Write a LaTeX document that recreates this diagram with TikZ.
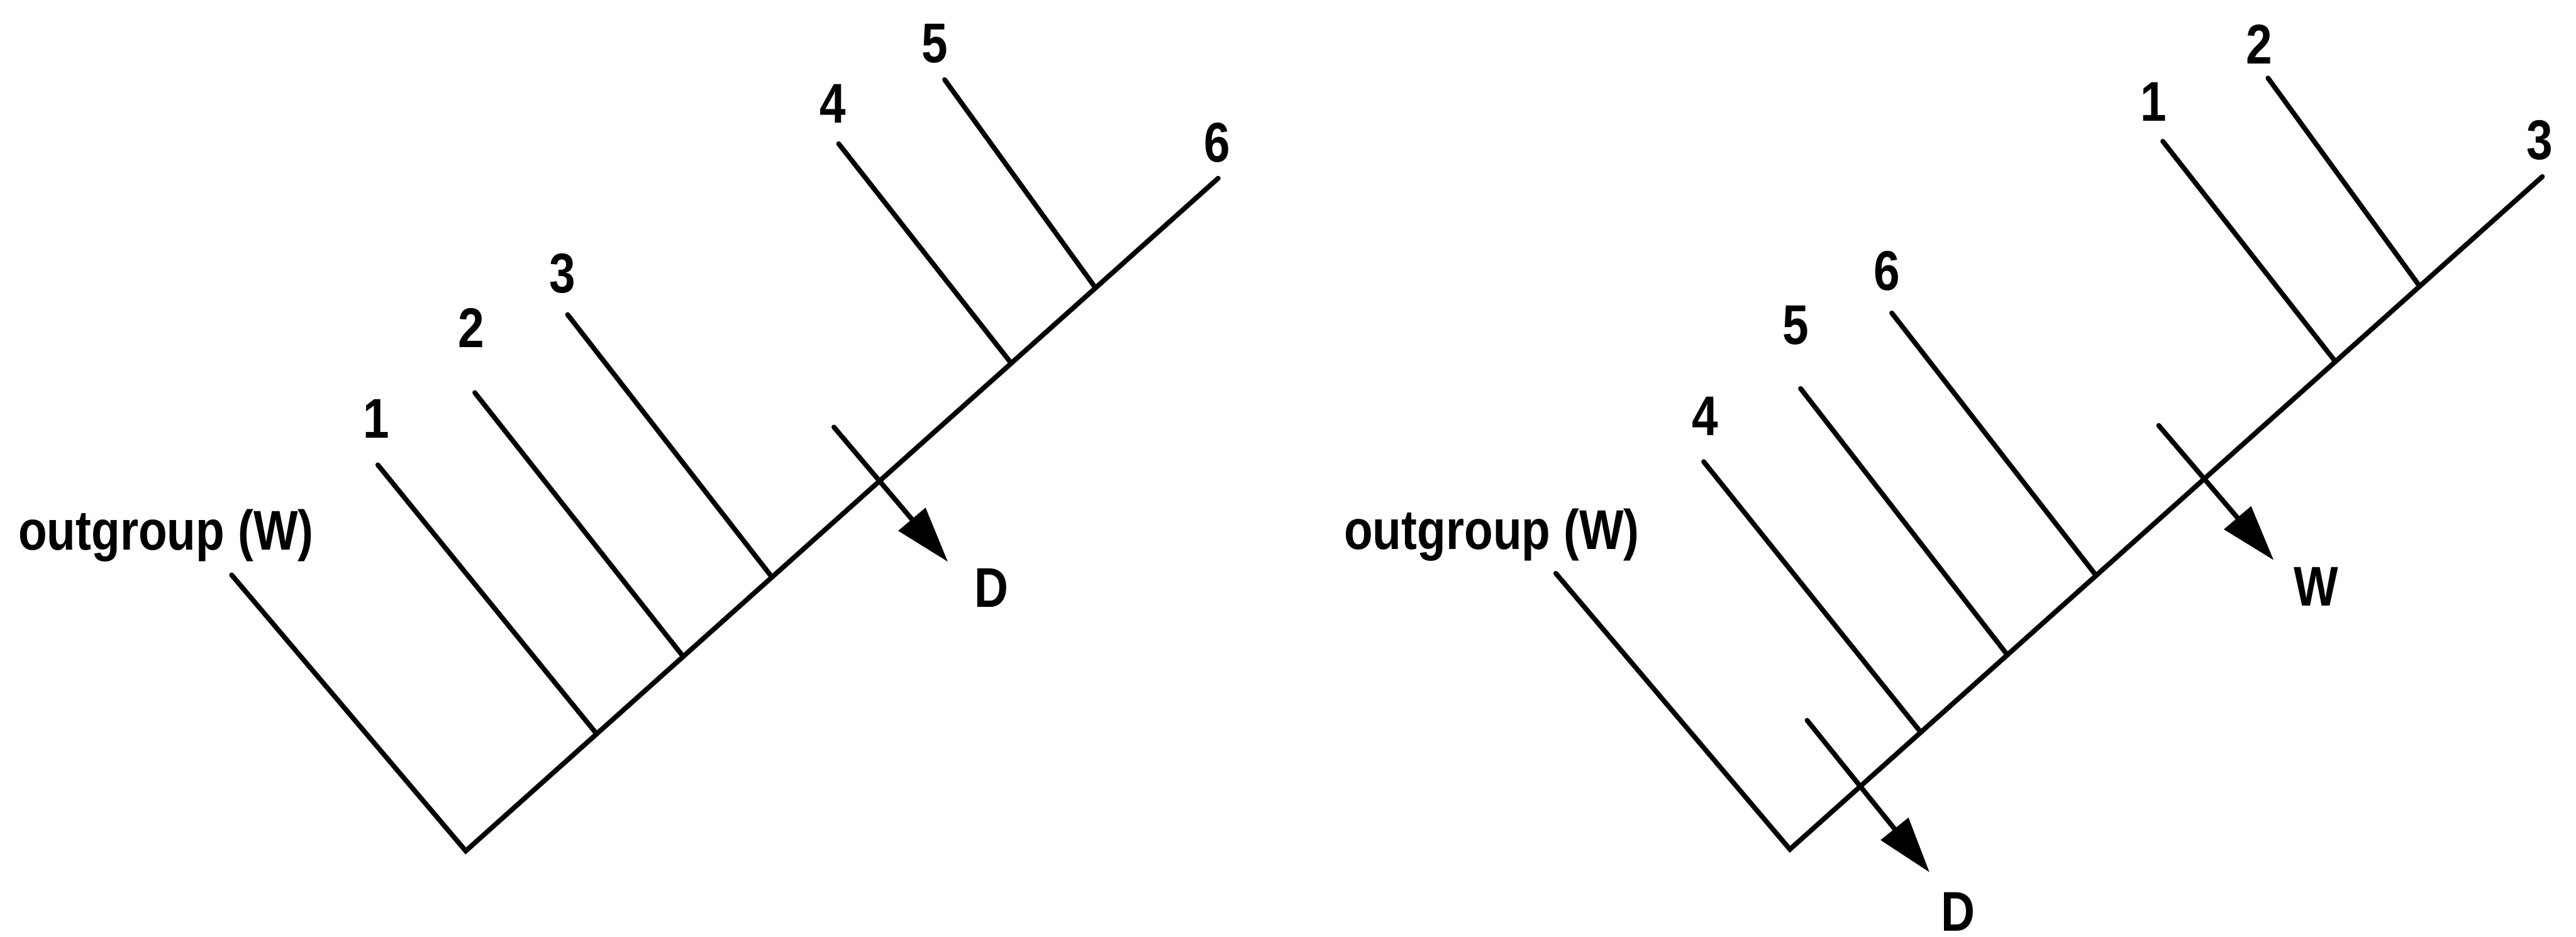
\documentclass[tikz,border=0pt]{standalone}
\usepackage{fontspec}
\setmainfont{Liberation Sans}[FakeStretch=0.84]
\usetikzlibrary{calc,arrows.meta}

\begin{document}
\begin{tikzpicture}[x=0.1mm, y=-0.1mm,
        br/.style={line width=0.85pt, line cap=round, line join=miter},
        mut/.style={-{Triangle[length=3.4mm, width=2.1mm]}, line width=0.85pt, line cap=round},
        tx/.style={font=\bfseries\fontsize{9.7}{11}\selectfont, inner sep=0pt}]
        \useasboundingbox (0,0) rectangle (1568,570);
        % Left tree
        \coordinate (lo) at (141,350);
        \coordinate (lr) at (283.5,518);
        \coordinate (l6) at (741.5,108.5);
        \coordinate (lj1) at ($(lr)!0.174!(l6)$);
        \coordinate (lj2) at ($(lr)!0.289!(l6)$);
        \coordinate (lj3) at ($(lr)!0.407!(l6)$);
        \coordinate (lj4) at ($(lr)!0.725!(l6)$);
        \coordinate (lj5) at ($(lr)!0.837!(l6)$);
        \coordinate (l1) at (230,283);
        \coordinate (l2) at (289,239);
        \coordinate (l3) at (345.5,191.5);
        \coordinate (l4) at (510.5,87.5);
        \coordinate (l5) at (575,48.5);
        \draw[br] (lo) -- (lr) -- (l6);
        \draw[br] (l1) -- (lj1);
        \draw[br] (l2) -- (lj2);
        \draw[br] (l3) -- (lj3);
        \draw[br] (l4) -- (lj4);
        \draw[br] (l5) -- (lj5);
        % Left change
        \coordinate (lda) at (507.6,260);
        \coordinate (ldb) at (577,342);
        \draw[mut] (lda) -- (ldb);
        % Right tree
        \coordinate (ro) at (947,349);
        \coordinate (rr) at (1089.5,517);
        \coordinate (r3) at (1547.5,107.5);
        \coordinate (rj4) at ($(rr)!0.174!(r3)$);
        \coordinate (rj5) at ($(rr)!0.289!(r3)$);
        \coordinate (rj6) at ($(rr)!0.407!(r3)$);
        \coordinate (rj1) at ($(rr)!0.725!(r3)$);
        \coordinate (rj2) at ($(rr)!0.837!(r3)$);
        \coordinate (r4) at (1037,281);
        \coordinate (r5) at (1096,236.5);
        \coordinate (r6) at (1151.5,190.5);
        \coordinate (r1) at (1316.5,86);
        \coordinate (r2) at (1380.5,47.5);
        \draw[br] (ro) -- (rr) -- (r3);
        \draw[br] (r4) -- (rj4);
        \draw[br] (r5) -- (rj5);
        \draw[br] (r6) -- (rj6);
        \draw[br] (r1) -- (rj1);
        \draw[br] (r2) -- (rj2);
        % Right changes
        \coordinate (rwa) at (1314,259);
        \coordinate (rwb) at (1384,341);
        \draw[mut] (rwa) -- (rwb);
        \coordinate (rda) at (1100,438.5);
        \coordinate (rdb) at (1174.5,531);
        \draw[mut] (rda) -- (rdb);
        % Labels
        \node[tx] (lout) at (101,326) {outgroup (W)};
        \node[tx] (ln1) at (229,255) {1};
        \node[tx] (ln2) at (287,199.5) {2};
        \node[tx] (ln3) at (342.5,166.5) {3};
        \node[tx] (ln4) at (507,63) {4};
        \node[tx] (ln5) at (569,26.5) {5};
        \node[tx] (ln6) at (741,87) {6};
        \node[tx] (lnd) at (603.5,358) {D};
        \node[tx] (rout) at (908,325.5) {outgroup (W)};
        \node[tx] (rn4) at (1038,253.5) {4};
        \node[tx] (rn5) at (1093,198) {5};
        \node[tx] (rn6) at (1148.5,165) {6};
        \node[tx] (rn1) at (1311,62) {1};
        \node[tx] (rn2) at (1375,27) {2};
        \node[tx] (rn3) at (1546,85.5) {3};
        \node[tx] (rnw) at (1410,357) {W};
        \node[tx] (rnd) at (1192,555) {D};
\end{tikzpicture}
\end{document}
